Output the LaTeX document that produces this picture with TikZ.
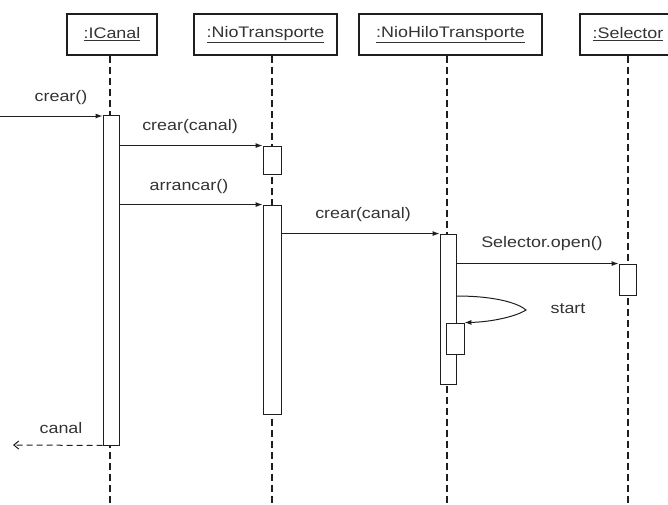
\documentclass[tikz,border=0pt]{standalone}
\usepackage{fontspec}
\setmainfont{Liberation Sans}[FakeStretch=1.17]
\usetikzlibrary{arrows.meta}
\definecolor{ink}{HTML}{1E1E1E}
\definecolor{txt}{HTML}{333333}

\begin{document}
\begin{tikzpicture}[>=Latex,x=1pt,y=-1pt,font=\fontsize{15.3}{18}\selectfont,
  obj/.style={draw=ink,line width=1.2pt,minimum height=41pt,inner sep=0pt,text=txt},
  act/.style={draw=ink,fill=white,line width=0.9pt,inner sep=0pt,minimum width=16pt},
  life/.style={ink,line width=1.3pt,dash pattern=on 7pt off 4pt},
  msg/.style={ink,line width=1pt,-{Latex[length=7pt,width=5pt]}},
  ret/.style={ink,line width=1pt,dash pattern=on 6pt off 4pt,
              -{Straight Barb[length=5pt,width=8pt]}},
  lbl/.style={txt}]

  \useasboundingbox (0,0) rectangle (668,504);

  % --- objects ---
  \node[obj,minimum width=90pt]  (ic) at (112,34.5)   {\underline{:ICanal}};
  \node[obj,minimum width=143pt] (nt) at (265.5,34.5) {\underline{:NioTransporte}};
  \node[obj,minimum width=183pt] (nh) at (450.5,34.5) {\underline{:NioHiloTransporte}};
  \node[obj,minimum width=96pt]  (se) at (628,34.5)   {\underline{:Selector}};

  \coordinate (bot) at (0,512);
  \coordinate (ll1) at (110,0);
  \coordinate (ll2) at (272,0);
  \coordinate (ll3) at (447,0);
  \coordinate (ll4) at (628,0);

  % --- lifelines ---
  \draw[life] (ic.south -| ll1) -- (ll1 |- bot);
  \draw[life] (nt.south -| ll2) -- (ll2 |- bot);
  \draw[life] (nh.south -| ll3) -- (ll3 |- bot);
  \draw[life] (se.south -| ll4) -- (ll4 |- bot);

  % --- activations ---
  \node[act,minimum height=330pt] (ica)  at (111,280)   {};
  \node[act,minimum width=18pt,minimum height=28pt]  (nta1) at (272,160)   {};
  \node[act,minimum width=18pt,minimum height=209pt] (nta2) at (272,309.5) {};
  \node[act,minimum height=150pt] (nha)  at (448,309)   {};
  \node[act,minimum width=17pt,minimum height=31pt]  (sea)  at (627.5,279.5) {};
  \node[act,minimum width=18pt,minimum height=31pt]  (nhb)  at (455,338.5) {};

  % --- messages ---
  \coordinate (in) at (0,116);
  \draw[msg] (in) -- (ica.north west |- in);
  \node[lbl] (l1) at (61,98) {crear()};

  \draw[msg] (ica.east |- nta1.north) -- (nta1.north west);
  \node[lbl] (l2) at (190,127) {crear(canal)};

  \draw[msg] (ica.east |- nta2.north) -- (nta2.north west);
  \node[lbl] (l3) at (189,187) {arrancar()};

  \draw[msg] (nta2.east |- nha.north) -- (nha.north west);
  \node[lbl] (l4) at (363,215) {crear(canal)};

  \draw[msg] (nha.east |- sea.north) -- (sea.north west);
  \node[lbl] (l5) at (542,244) {Selector.open()};

  % self call
  \coordinate (st) at (448,296);
  \draw[msg] (nha.east |- st) .. controls (495,296) and (518,303) .. (526,310)
        .. controls (515,317) and (490,322) .. (nhb.north east);
  \node[lbl] (l6) at (568,309) {start};

  % --- return ---
  \coordinate (out) at (13,445);
  \draw[ret] (ica.south west) -- (out);
  \node[lbl] (l7) at (61,428) {canal};

\end{tikzpicture}
\end{document}
